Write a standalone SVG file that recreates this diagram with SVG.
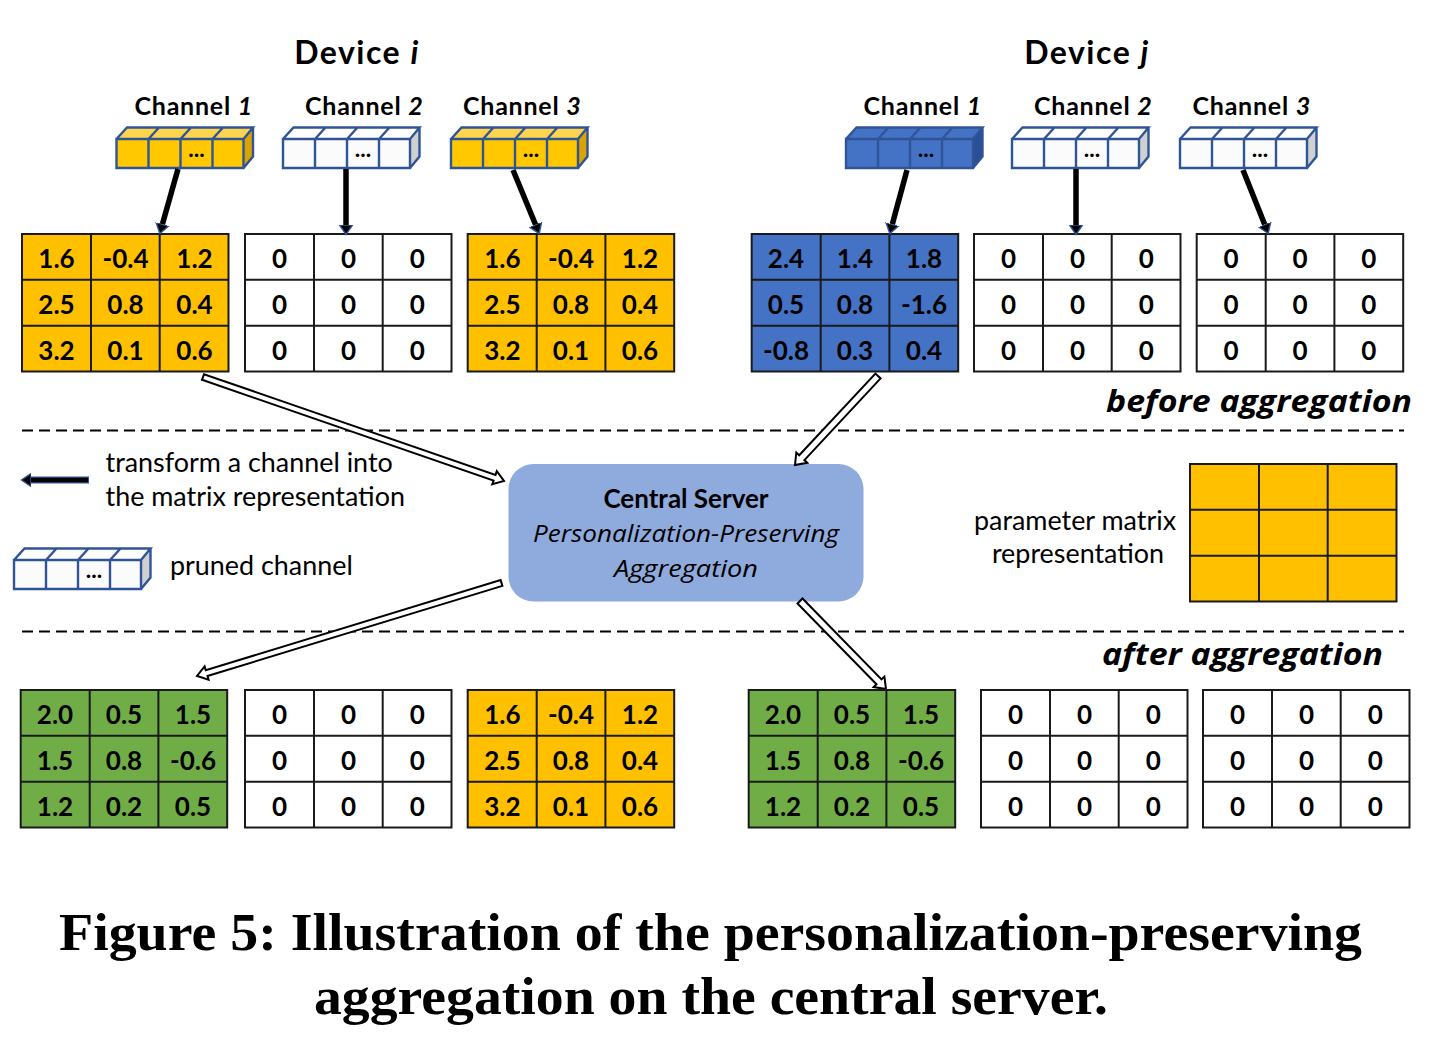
<svg xmlns="http://www.w3.org/2000/svg" xmlns:xlink="http://www.w3.org/1999/xlink" width="1443" height="1052" viewBox="0 0 1443 1052">
<style>
text{font-family:"Lato","Open Sans",sans-serif;fill:#000}
.t{font-size:32px;font-weight:700;text-anchor:middle;letter-spacing:1.5px}
.ch{font-size:25px;font-weight:700;letter-spacing:.75px}
.it{font-style:italic}
.v{font-size:26px;font-weight:700;text-anchor:middle}
.ag{font-family:"Open Sans",sans-serif;font-size:30px;font-weight:700;font-style:italic}
.lb{font-size:26.9px}
.mid{text-anchor:middle}
.srv{font-family:"Open Sans",sans-serif;font-size:24px;font-style:italic}
.cap{font-family:"Liberation Serif",serif;font-size:52.5px;font-weight:700}
.dots{font-size:23px;font-weight:700;text-anchor:middle}
.grid{fill:none;stroke:#1a1a1a;stroke-width:2}
.edge{fill:none;stroke:#2f5597;stroke-width:2.4;stroke-linejoin:miter}
.dash{stroke:#000;stroke-width:2.2;stroke-dasharray:11 6;fill:none}
.hollow{fill:#fff;stroke:#000;stroke-width:2;stroke-linejoin:miter}
.shaft{stroke:#000;stroke-width:5.5;fill:none}
.y{fill:#ffc000}.w{fill:#fff}.b{fill:#4472c4}.g{fill:#70ad47}
</style>
<defs>
<marker id="head" markerUnits="userSpaceOnUse" viewBox="0 -8 11 16" refX="0" refY="0" markerWidth="11" markerHeight="16" orient="auto"><path d="M0 -6.5L9.5 0L0 6.5Z" fill="#000" stroke="#2f5597" stroke-width="1.4"/></marker>
<g id="cells"><path class="grid" d="M0 0H206.500V137.500H0ZM69 0V137.500M137.700 0V137.500M0 45.800H206.500M0 91.700H206.500"/></g>
<g id="frame"><path class="edge" d="M0 0H127V29H0ZM32 0V29M64 0V29M96 0V29M0 0L10.500 -11.500H136.500L127 0M32 0L42.500 -11.500M64 0L74.500 -11.500M96 0L106.500 -11.500M127 29L136.500 17.500V-11.500"/></g>
<g id="chY"><rect width="127" height="29" fill="#ffc800"/><path d="M0 0L10.500 -11.500H136.500L127 0Z" fill="#ffd54f"/><path d="M127 0L136.500 -11.500V17.500L127 29Z" fill="#d9a300"/><use xlink:href="#frame" href="#frame"/><text class="dots" x="80" y="18">...</text></g>
<g id="chW"><rect width="127" height="29" fill="#fbfbfb"/><path d="M0 0L10.500 -11.500H136.500L127 0Z" fill="#fff"/><path d="M127 0L136.500 -11.500V17.500L127 29Z" fill="#d0d0d0"/><use xlink:href="#frame" href="#frame"/><text class="dots" x="80" y="18">...</text></g>
<g id="chB"><rect width="127" height="29" fill="#4472c4"/><path d="M0 0L10.500 -11.500H136.500L127 0Z" fill="#4472c4"/><path d="M127 0L136.500 -11.500V17.500L127 29Z" fill="#2a4f96"/><use xlink:href="#frame" href="#frame"/><text class="dots" x="80" y="18">...</text></g>
</defs>
<rect width="1443" height="1052" fill="#fff"/>

<g id="device-i-title"><text class="t" x="357" y="64">Device <tspan class="it">i</tspan></text></g>
<g id="device-j-title"><text class="t" x="1087" y="64">Device <tspan class="it">j</tspan></text></g>

<g id="channel-labels">
<text class="ch" x="134.500" y="115">Channel <tspan class="it">1</tspan></text>
<text class="ch" x="305" y="115">Channel <tspan class="it">2</tspan></text>
<text class="ch" x="463" y="115">Channel <tspan class="it">3</tspan></text>
<text class="ch" x="863.500" y="115">Channel <tspan class="it">1</tspan></text>
<text class="ch" x="1034" y="115">Channel <tspan class="it">2</tspan></text>
<text class="ch" x="1192.500" y="115">Channel <tspan class="it">3</tspan></text>
</g>

<g id="channels">
<use id="ci1" xlink:href="#chY" href="#chY" x="116.500" y="139"/>
<use id="ci2" xlink:href="#chW" href="#chW" x="283" y="139"/>
<use id="ci3" xlink:href="#chY" href="#chY" x="451" y="139"/>
<use id="cj1" xlink:href="#chB" href="#chB" x="846" y="139"/>
<use id="cj2" xlink:href="#chW" href="#chW" x="1012" y="139"/>
<use id="cj3" xlink:href="#chW" href="#chW" x="1180" y="139"/>
</g>

<g id="matrix-i1"><rect class="y" x="22" y="234" width="206.500" height="137.500"/><use xlink:href="#cells" href="#cells" x="22" y="234"/>
<text class="v" x="56.500" y="267.500">1.6</text><text class="v" x="125.500" y="267.500">-0.4</text><text class="v" x="194.500" y="267.500">1.2</text>
<text class="v" x="56.500" y="313.500">2.5</text><text class="v" x="125.500" y="313.500">0.8</text><text class="v" x="194.500" y="313.500">0.4</text>
<text class="v" x="56.500" y="359.500">3.2</text><text class="v" x="125.500" y="359.500">0.1</text><text class="v" x="194.500" y="359.500">0.6</text></g>

<g id="matrix-i2"><rect class="w" x="245" y="234" width="206.500" height="137.500"/><use xlink:href="#cells" href="#cells" x="245" y="234"/>
<text class="v" x="279.500" y="267.500">0</text><text class="v" x="348.500" y="267.500">0</text><text class="v" x="417.300" y="267.500">0</text>
<text class="v" x="279.500" y="313.500">0</text><text class="v" x="348.500" y="313.500">0</text><text class="v" x="417.300" y="313.500">0</text>
<text class="v" x="279.500" y="359.500">0</text><text class="v" x="348.500" y="359.500">0</text><text class="v" x="417.300" y="359.500">0</text></g>

<g id="matrix-i3"><rect class="y" x="467.700" y="234" width="206.500" height="137.500"/><use xlink:href="#cells" href="#cells" x="467.700" y="234"/>
<text class="v" x="502.300" y="267.500">1.6</text><text class="v" x="571" y="267.500">-0.4</text><text class="v" x="640" y="267.500">1.2</text>
<text class="v" x="502.300" y="313.500">2.5</text><text class="v" x="571" y="313.500">0.8</text><text class="v" x="640" y="313.500">0.4</text>
<text class="v" x="502.300" y="359.500">3.2</text><text class="v" x="571" y="359.500">0.1</text><text class="v" x="640" y="359.500">0.6</text></g>

<g id="matrix-j1"><rect class="b" x="751.700" y="234" width="206.500" height="137.500"/><use xlink:href="#cells" href="#cells" x="751.700" y="234"/>
<text class="v" x="786" y="267.500">2.4</text><text class="v" x="855" y="267.500">1.4</text><text class="v" x="924" y="267.500">1.8</text>
<text class="v" x="786" y="313.500">0.5</text><text class="v" x="855" y="313.500">0.8</text><text class="v" x="924" y="313.500">-1.6</text>
<text class="v" x="786" y="359.500">-0.8</text><text class="v" x="855" y="359.500">0.3</text><text class="v" x="924" y="359.500">0.4</text></g>

<g id="matrix-j2"><rect class="w" x="974" y="234" width="206.500" height="137.500"/><use xlink:href="#cells" href="#cells" x="974" y="234"/>
<text class="v" x="1008.500" y="267.500">0</text><text class="v" x="1077.500" y="267.500">0</text><text class="v" x="1146.300" y="267.500">0</text>
<text class="v" x="1008.500" y="313.500">0</text><text class="v" x="1077.500" y="313.500">0</text><text class="v" x="1146.300" y="313.500">0</text>
<text class="v" x="1008.500" y="359.500">0</text><text class="v" x="1077.500" y="359.500">0</text><text class="v" x="1146.300" y="359.500">0</text></g>

<g id="matrix-j3"><rect class="w" x="1196.700" y="234" width="206.500" height="137.500"/><use xlink:href="#cells" href="#cells" x="1196.700" y="234"/>
<text class="v" x="1231" y="267.500">0</text><text class="v" x="1300" y="267.500">0</text><text class="v" x="1368.800" y="267.500">0</text>
<text class="v" x="1231" y="313.500">0</text><text class="v" x="1300" y="313.500">0</text><text class="v" x="1368.800" y="313.500">0</text>
<text class="v" x="1231" y="359.500">0</text><text class="v" x="1300" y="359.500">0</text><text class="v" x="1368.800" y="359.500">0</text></g>

<g id="before-label"><text class="ag" x="1106" y="412" textLength="306" lengthAdjust="spacingAndGlyphs">before aggregation</text></g>

<g id="dividers"><path class="dash" d="M22 430.500H1404"/><path class="dash" d="M22 631.500H1404"/></g>

<g id="legend-transform">
<line class="shaft" x1="89" y1="480" x2="31" y2="480" stroke="#2f5597" style="stroke:#2f5597;stroke-width:7"/>
<line class="shaft" x1="88" y1="480" x2="31" y2="480" style="stroke-width:4.500" marker-end="url(#head)"/>
<text class="lb" x="105.500" y="472">transform a channel into</text>
<text class="lb" x="105.500" y="506">the matrix representation</text>
</g>

<g id="legend-pruned">
<use xlink:href="#chW" href="#chW" x="14" y="560"/>
<text class="lb" x="170" y="575">pruned channel</text>
</g>

<g id="central-server">
<rect x="508.500" y="464" width="355" height="137.500" rx="25" fill="#8faadc"/>
<text class="mid" x="686" y="508" font-size="26" font-weight="700">Central Server</text>
<text class="srv" x="533" y="542" textLength="306" lengthAdjust="spacingAndGlyphs">Personalization-Preserving</text>
<text class="srv" x="614" y="577" textLength="144" lengthAdjust="spacingAndGlyphs">Aggregation</text>
</g>

<g id="connectors">
<line class="shaft" x1="178" y1="169" x2="162.400" y2="224.300" marker-end="url(#head)"/>
<line class="shaft" x1="346" y1="169" x2="346" y2="225" marker-end="url(#head)"/>
<line class="shaft" x1="513" y1="170" x2="535.600" y2="224.700" marker-end="url(#head)"/>
<line class="shaft" x1="907" y1="170" x2="892.300" y2="224.300" marker-end="url(#head)"/>
<line class="shaft" x1="1076" y1="169" x2="1076" y2="225" marker-end="url(#head)"/>
<line class="shaft" x1="1243" y1="170" x2="1264.700" y2="224.600" marker-end="url(#head)"/>
<polygon class="hollow" points="202,379.800 493.600,480.500 492.200,484.300 504,481 496.800,471.100 495.500,474.900 204,374.200"/>
<polygon class="hollow" points="880.600,378.400 804.400,460.100 807.300,462.800 795,465 796.300,452.600 799.200,455.300 875.400,373.600"/>
<polygon class="hollow" points="502.400,585.900 207.500,676 208.600,679.800 197,676 204.600,666.400 205.700,670.200 500.600,580.100"/>
<polygon class="hollow" points="797.500,603.500 876.500,684.300 873.600,687.100 886,689 884.400,676.600 881.500,679.400 802.500,598.500"/>
</g>

<g id="legend-matrix">
<text class="lb mid" x="1075" y="530">parameter matrix</text>
<text class="lb mid" x="1078" y="563">representation</text>
<rect class="y" x="1190" y="464" width="206.500" height="137.500"/><use xlink:href="#cells" href="#cells" x="1190" y="464"/>
</g>

<g id="after-label"><text class="ag" x="1102" y="665" textLength="281" lengthAdjust="spacingAndGlyphs">after aggregation</text></g>

<g id="matrix-a1"><rect class="g" x="20.700" y="690" width="206.500" height="137.500"/><use xlink:href="#cells" href="#cells" x="20.700" y="690"/>
<text class="v" x="55" y="723.500">2.0</text><text class="v" x="124" y="723.500">0.5</text><text class="v" x="193" y="723.500">1.5</text>
<text class="v" x="55" y="769.500">1.5</text><text class="v" x="124" y="769.500">0.8</text><text class="v" x="193" y="769.500">-0.6</text>
<text class="v" x="55" y="815.500">1.2</text><text class="v" x="124" y="815.500">0.2</text><text class="v" x="193" y="815.500">0.5</text></g>

<g id="matrix-a2"><rect class="w" x="245" y="690" width="206.500" height="137.500"/><use xlink:href="#cells" href="#cells" x="245" y="690"/>
<text class="v" x="279.500" y="723.500">0</text><text class="v" x="348.500" y="723.500">0</text><text class="v" x="417.300" y="723.500">0</text>
<text class="v" x="279.500" y="769.500">0</text><text class="v" x="348.500" y="769.500">0</text><text class="v" x="417.300" y="769.500">0</text>
<text class="v" x="279.500" y="815.500">0</text><text class="v" x="348.500" y="815.500">0</text><text class="v" x="417.300" y="815.500">0</text></g>

<g id="matrix-a3"><rect class="y" x="467.700" y="690" width="206.500" height="137.500"/><use xlink:href="#cells" href="#cells" x="467.700" y="690"/>
<text class="v" x="502.300" y="723.500">1.6</text><text class="v" x="571" y="723.500">-0.4</text><text class="v" x="640" y="723.500">1.2</text>
<text class="v" x="502.300" y="769.500">2.5</text><text class="v" x="571" y="769.500">0.8</text><text class="v" x="640" y="769.500">0.4</text>
<text class="v" x="502.300" y="815.500">3.2</text><text class="v" x="571" y="815.500">0.1</text><text class="v" x="640" y="815.500">0.6</text></g>

<g id="matrix-a4"><rect class="g" x="748.700" y="690" width="206.500" height="137.500"/><use xlink:href="#cells" href="#cells" x="748.700" y="690"/>
<text class="v" x="783" y="723.500">2.0</text><text class="v" x="852" y="723.500">0.5</text><text class="v" x="921" y="723.500">1.5</text>
<text class="v" x="783" y="769.500">1.5</text><text class="v" x="852" y="769.500">0.8</text><text class="v" x="921" y="769.500">-0.6</text>
<text class="v" x="783" y="815.500">1.2</text><text class="v" x="852" y="815.500">0.2</text><text class="v" x="921" y="815.500">0.5</text></g>

<g id="matrix-a5"><rect class="w" x="981" y="690" width="206.500" height="137.500"/><use xlink:href="#cells" href="#cells" x="981" y="690"/>
<text class="v" x="1015.500" y="723.500">0</text><text class="v" x="1084.500" y="723.500">0</text><text class="v" x="1153.300" y="723.500">0</text>
<text class="v" x="1015.500" y="769.500">0</text><text class="v" x="1084.500" y="769.500">0</text><text class="v" x="1153.300" y="769.500">0</text>
<text class="v" x="1015.500" y="815.500">0</text><text class="v" x="1084.500" y="815.500">0</text><text class="v" x="1153.300" y="815.500">0</text></g>

<g id="matrix-a6"><rect class="w" x="1203" y="690" width="206.500" height="137.500"/><use xlink:href="#cells" href="#cells" x="1203" y="690"/>
<text class="v" x="1237.500" y="723.500">0</text><text class="v" x="1306.500" y="723.500">0</text><text class="v" x="1375.300" y="723.500">0</text>
<text class="v" x="1237.500" y="769.500">0</text><text class="v" x="1306.500" y="769.500">0</text><text class="v" x="1375.300" y="769.500">0</text>
<text class="v" x="1237.500" y="815.500">0</text><text class="v" x="1306.500" y="815.500">0</text><text class="v" x="1375.300" y="815.500">0</text></g>

<g id="caption">
<text class="cap" x="59" y="950" textLength="1303" lengthAdjust="spacingAndGlyphs">Figure 5: Illustration of the personalization-preserving</text>
<text class="cap" x="314" y="1014" textLength="794" lengthAdjust="spacingAndGlyphs">aggregation on the central server.</text>
</g>
</svg>
